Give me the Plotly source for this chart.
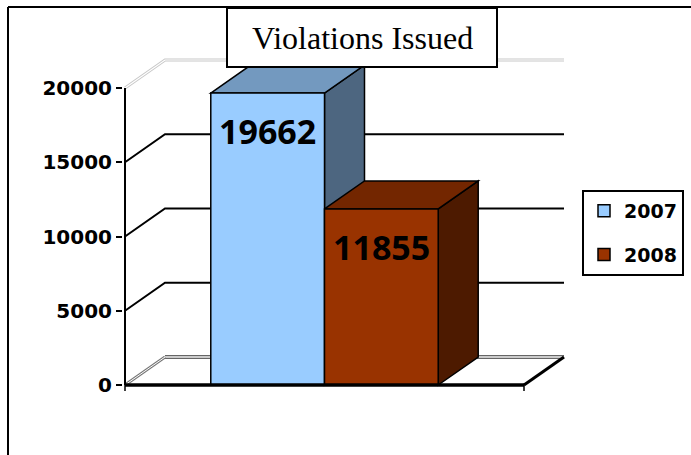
import plotly.graph_objects as go

# ---------------- data ----------------
title_text = "Violations Issued"
series_names = ["2007", "2008"]
series_values = [19662, 11855]
front_colors = ["#99CCFF", "#993300"]
top_colors = ["#7399BF", "#732600"]
side_colors = ["#4D6680", "#4D1A00"]
tick_values = [0, 5000, 10000, 15000, 20000]
tick_labels = ["0", "5000", "10000", "15000", "20000"]

# ---------------- layout geometry ----------------
W, H = 691, 455
L, R, T, B = 123, 123, 56, 60
PX_PER_X = 399.0
PX_PER_Y = 297.0 / 20000
X_FRONT_PX = 125
Y_ZERO_PX = 385
x_range = [-0.5 - (X_FRONT_PX - L) / PX_PER_X, -0.5 + (W - R - X_FRONT_PX) / PX_PER_X]
y_range = [-(H - B - Y_ZERO_PX) / PX_PER_Y, (Y_ZERO_PX - T) / PX_PER_Y]
DX = 40 / PX_PER_X
DY = 28 / PX_PER_Y
BARGAP = 0.43
bar_w = (1 - BARGAP) / 2
ymax = tick_values[-1]


def px2x(px):
    return (px - L) / (W - L - R)


def py2y(py):
    return (H - B - py) / (H - T - B)


fig = go.Figure()
for i, (name, v) in enumerate(zip(series_names, series_values)):
    fig.add_trace(go.Bar(
        x=[0], y=[v], name=name, legendgroup=name,
        marker=dict(color=front_colors[i], line=dict(color="black", width=1.5)),
        hoverinfo="skip",
    ))

shapes = []


def path(points):
    return "M " + " L ".join(f"{x},{y}" for x, y in points)


def add_line(points, color, width, layer="below", close=False, fill=None):
    d = path(points) + (" Z" if close else "")
    s = dict(type="path", path=d, xref="x", yref="y", layer=layer,
             line=dict(color=color, width=width))
    if fill:
        s["fillcolor"] = fill
    shapes.append(s)


# back wall gridlines
for v in tick_values[1:-1]:
    add_line([(-0.5, v), (-0.5 + DX, v + DY), (0.5 + DX, v + DY)], "black", 2)
# top edge (double light line)
top_pts = [(-0.5, ymax), (-0.5 + DX, ymax + DY), (0.5 + DX, ymax + DY)]
add_line(top_pts, "#C8C8C8", 3)
add_line(top_pts, "white", 1.2)
# floor
add_line([(-0.5 + DX, DY), (0.5 + DX, DY)], "#333333", 3.5)
add_line([(-0.5 + DX, DY), (0.5 + DX, DY)], "white", 1.3)
add_line([(-0.5, 0), (-0.5 + DX, DY)], "#777777", 3)
add_line([(-0.5, 0), (-0.5 + DX, DY)], "white", 1)
add_line([(0.5, 0), (0.5 + DX, DY)], "black", 3)

# bar 3D faces
for i, v in enumerate(series_values):
    x0 = -bar_w + i * bar_w
    x1 = x0 + bar_w
    add_line([(x1, 0), (x1 + DX, DY), (x1 + DX, v + DY), (x1, v)], "black", 1.5,
             close=True, fill=side_colors[i])
    add_line([(x0, v), (x0 + DX, v + DY), (x1 + DX, v + DY), (x1, v)], "black", 1.5,
             close=True, fill=top_colors[i])

# front floor line, axis line, small ticks
add_line([(-0.5, 0), (0.5, 0)], "black", 3.5, layer="above")
add_line([(-0.5, 0), (-0.5, ymax)], "black", 2, layer="above")
add_line([(-0.5, 0), (-0.5, -6 / PX_PER_Y)], "black", 1.5, layer="above")
add_line([(0.5, 0), (0.5, -6 / PX_PER_Y)], "black", 1.5, layer="above")

# title box + outer frame
shapes.append(dict(type="rect", xref="paper", yref="paper",
                   x0=px2x(227), x1=px2x(497), y0=py2y(67), y1=py2y(8),
                   line=dict(color="black", width=2), fillcolor="white", layer="above"))
shapes.append(dict(type="line", xref="paper", yref="paper",
                   x0=px2x(8), x1=px2x(8), y0=py2y(7), y1=py2y(470),
                   line=dict(color="black", width=2)))
shapes.append(dict(type="line", xref="paper", yref="paper",
                   x0=px2x(8), x1=px2x(700), y0=py2y(7), y1=py2y(7),
                   line=dict(color="black", width=2)))

annotations = []
for i, v in enumerate(series_values):
    xc = -bar_w + i * bar_w + bar_w / 2
    annotations.append(dict(
        x=xc, y=v, xref="x", yref="y", text=f"{v}", showarrow=False,
        xanchor="center", yanchor="middle",
        yshift=-38, font=dict(family="Open Sans", size=34, color="black", weight="bold"),
    ))
annotations.append(dict(
    x=px2x(362), y=py2y(38), xref="paper", yref="paper", text=title_text,
    showarrow=False, xanchor="center", yanchor="middle",
    font=dict(family="Liberation Serif", size=32, color="black"),
))

fig.update_layout(
    width=W, height=H,
    margin=dict(l=L, r=R, t=T, b=B, autoexpand=False),
    paper_bgcolor="white", plot_bgcolor="white",
    barmode="group", bargap=BARGAP, bargroupgap=0,
    showlegend=True,
    legend=dict(xref="container", yref="container",
                x=582 / W, y=1 - 190 / H, xanchor="left", yanchor="top",
                bordercolor="black", borderwidth=2, bgcolor="white",
                font=dict(family="DejaVu Sans", size=19, color="black", weight="bold"),
                traceorder="grouped", tracegroupgap=16),
    xaxis=dict(type="linear", range=x_range, visible=False, fixedrange=True),
    yaxis=dict(range=y_range, tickvals=tick_values, ticktext=tick_labels,
               showgrid=False, zeroline=False, showline=False,
               ticks="outside", ticklen=6, tickwidth=2, tickcolor="black",
               tickfont=dict(family="DejaVu Sans", size=20, color="black", weight="bold"),
               fixedrange=True),
    shapes=shapes,
    annotations=annotations,
    hovermode=False,
)

fig.write_html("out.html", config={"displayModeBar": False},
               post_script="document.body.style.margin='0';document.body.style.overflow='hidden';")
